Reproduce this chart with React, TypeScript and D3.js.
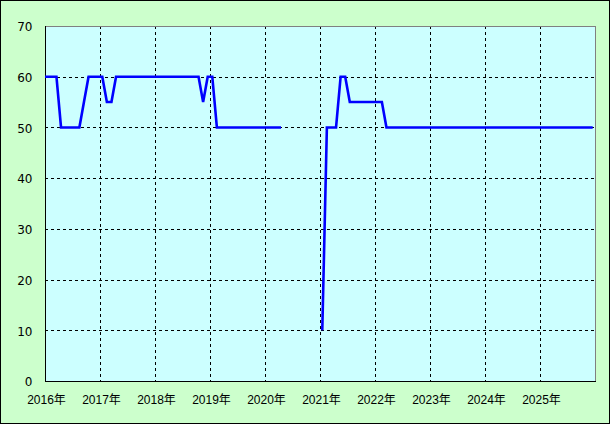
import React from "react";
import * as d3 from "d3";

// Monthly values starting Dec 2015 (index 0), null = no data
const startYear = 2015;
const startMonth = 11; // December (0-based)
const values: (number | null)[] = [
  60,
  // 2016
  60, 60, 60, 50, 50, 50, 50, 50, 55, 60, 60, 60,
  // 2017
  60, 55, 55, 60, 60, 60, 60, 60, 60, 60, 60, 60,
  // 2018
  60, 60, 60, 60, 60, 60, 60, 60, 60, 60, 55, 60,
  // 2019
  60, 50, 50, 50, 50, 50, 50, 50, 50, 50, 50, 50,
  // 2020
  50, 50, 50, 50, null, null, null, null, null, null, null, null,
  // 2021
  10, 50, 50, 50, 60, 60, 55, 55, 55, 55, 55, 55,
  // 2022
  55, 55, 50, 50, 50, 50, 50, 50, 50, 50, 50, 50,
  // 2023
  50, 50, 50, 50, 50, 50, 50, 50, 50, 50, 50, 50,
  // 2024
  50, 50, 50, 50, 50, 50, 50, 50, 50, 50, 50, 50,
  // 2025
  50, 50, 50, 50, 50, 50, 50, 50, 50, 50, 50, 50,
];

const yearTicks = [2016, 2017, 2018, 2019, 2020, 2021, 2022, 2023, 2024, 2025];
const yTicks = [0, 10, 20, 30, 40, 50, 60, 70];
const xStartYear = 2016;
const xEndYear = 2026;

const W = 610;
const H = 424;
const L = 45;
const T = 26;
const R = 595;
const B = 381;

export default function App() {
  // x in months since Jan of xStartYear
  const x = d3.scaleLinear().domain([0, (xEndYear - xStartYear) * 12]).range([L, R]);
  const y = d3.scaleLinear().domain([0, 70]).range([B, T]);

  const pts = values.map((v, i) => {
    const m = (startYear - xStartYear) * 12 + startMonth + i + 0.5;
    return { m, v };
  });

  const line = d3
    .line<{ m: number; v: number | null }>()
    .defined((d) => d.v !== null)
    .x((d) => x(d.m))
    .y((d) => y(d.v as number));

  const snap = (v: number) => Math.round(v) + 0.5;

  return (
    <svg
      width={W}
      height={H}
      style={{ position: "absolute", left: 0, top: 0, display: "block" }}
    >
      <defs>
        <clipPath id="plot">
          <rect x={L} y={T} width={R - L} height={B - T} />
        </clipPath>
      </defs>
      <rect x={0.5} y={0.5} width={W - 1} height={H - 1} fill="#ccffcc" stroke="#000" />
      <rect x={L} y={T} width={R - L} height={B - T} fill="#ccffff" />
      {yTicks
        .filter((t) => t > 0 && t < 70)
        .map((t) => (
          <line
            key={"h" + t}
            x1={L}
            x2={R}
            y1={snap(y(t))}
            y2={snap(y(t))}
            stroke="#000"
            strokeDasharray="3,3"
            shapeRendering="crispEdges"
          />
        ))}
      {yearTicks
        .filter((yr) => yr > xStartYear)
        .map((yr) => (
          <line
            key={"v" + yr}
            x1={snap(x((yr - xStartYear) * 12))}
            x2={snap(x((yr - xStartYear) * 12))}
            y1={T}
            y2={B}
            stroke="#000"
            strokeDasharray="3,3"
            shapeRendering="crispEdges"
          />
        ))}
      {/* plot border */}
      <line x1={L} x2={R} y1={T + 0.5} y2={T + 0.5} stroke="#808080" shapeRendering="crispEdges" />
      <line x1={R + 0.5} x2={R + 0.5} y1={T} y2={B} stroke="#808080" shapeRendering="crispEdges" />
      <line x1={L + 0.5} x2={L + 0.5} y1={T} y2={B + 1} stroke="#000" shapeRendering="crispEdges" />
      <line x1={L} x2={R + 1} y1={B + 0.5} y2={B + 0.5} stroke="#000" shapeRendering="crispEdges" />
      <path
        d={line(pts) || ""}
        fill="none"
        stroke="#0000ff"
        strokeWidth={2.6}
        strokeLinejoin="miter"
        clipPath="url(#plot)"
      />
      {yTicks.map((t) => (
        <text
          key={"yl" + t}
          x={32.5}
          y={y(t) + 5.3}
          textAnchor="end"
          fontFamily="DejaVu Sans, sans-serif"
          fontSize={12}
          fill="#000"
        >
          {t}
        </text>
      ))}
      {yearTicks.map((yr) => (
        <text
          key={"xl" + yr}
          x={x((yr - xStartYear) * 12) + 1.5}
          y={404.3}
          textAnchor="middle"
          fontFamily="Liberation Sans, Noto Sans CJK JP, sans-serif"
          fontSize={12}
          fill="#000"
        >
          {yr + "年"}
        </text>
      ))}
    </svg>
  );
}
